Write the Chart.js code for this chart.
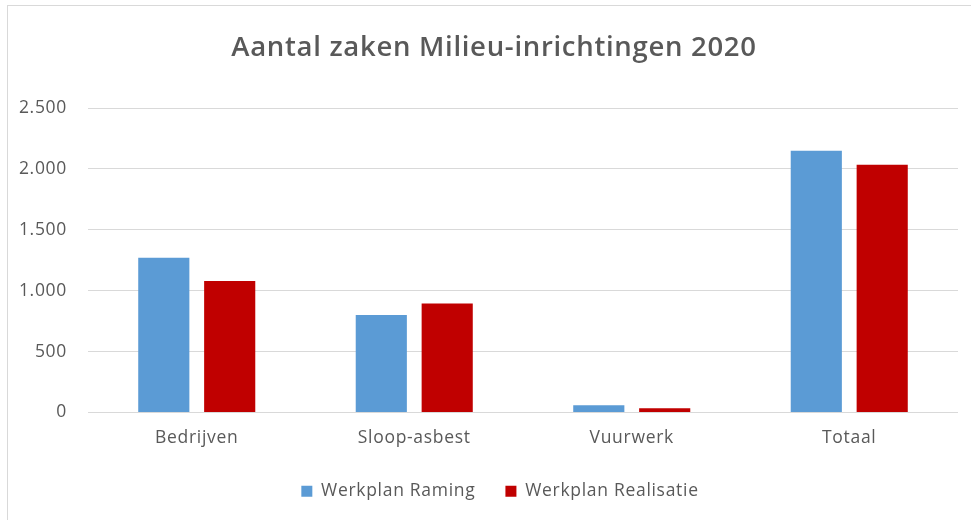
<!DOCTYPE html>
<html>
<head>
<meta charset="utf-8">
<script src="https://cdn.jsdelivr.net/npm/chart.js@4/dist/chart.umd.min.js"></script>
<style>
  html, body { margin: 0; padding: 0; background: #fff; }
  #wrap { position: relative; width: 971px; height: 520px; overflow: hidden; }
  #frame {
    position: absolute; left: 7px; top: 5px; width: 1000px; height: 600px;
    border-left: 1px solid #d9d9d9; border-top: 1px solid #d9d9d9;
    pointer-events: none;
  }
</style>
</head>
<body>
<div id="wrap">
  <canvas id="chart" width="971" height="520"></canvas>
  <div id="frame"></div>
</div>
<script>
const categories = ["Bedrijven", "Sloop-asbest", "Vuurwerk", "Totaal"];
const ramingValues = [1270, 800, 60, 2150];
const realisatieValues = [1080, 895, 35, 2035];
const yTicks = [0, 500, 1000, 1500, 2000, 2500];

const textColor = "#595959";
const fontFamily = "'Open Sans', 'DejaVu Sans', sans-serif";

// 1000 -> "1.000"
function formatNL(v) {
  return String(v).replace(/\B(?=(\d{3})+(?!\d))/g, ".");
}

// the original text is a bit wider than Open Sans, spread it a little
const spacing = {
  id: "spacing",
  beforeUpdate(chart) { chart.ctx.letterSpacing = "0.7px"; },
  beforeDraw(chart) { chart.ctx.letterSpacing = "0.7px"; },
};

// title and legend sit a bit right of the canvas centre in the original
const nudge = {
  id: "nudge",
  afterLayout(chart) {
    chart.titleBlock.left += 15;
    chart.titleBlock.right += 15;
    chart.legend.left += 21;
    chart.legend.right += 21;
  },
};

const ctx = document.getElementById("chart").getContext("2d");
new Chart(ctx, {
  type: "bar",
  data: {
    labels: categories,
    datasets: [
      {
        label: "Werkplan Raming",
        data: ramingValues,
        backgroundColor: "#5b9bd5",
        categoryPercentage: 0.606,
        barPercentage: 0.776,
      },
      {
        label: "Werkplan Realisatie",
        data: realisatieValues,
        backgroundColor: "#c00000",
        categoryPercentage: 0.606,
        barPercentage: 0.776,
      },
    ],
  },
  plugins: [spacing, nudge],
  options: {
    responsive: false,
    animation: false,
    layout: {
      padding: { left: 0, right: 13, top: 0, bottom: 10 },
    },
    scales: {
      x: {
        grid: { display: false },
        border: { display: false },
        afterFit: (scale) => {
          scale.height -= 3;
        },
        ticks: {
          color: textColor,
          padding: 7,
          font: { family: fontFamily, size: 17.5 },
        },
      },
      y: {
        min: 0,
        max: 2500,
        afterBuildTicks: (scale) => {
          scale.ticks = yTicks.map((v) => ({ value: v }));
        },
        afterFit: (scale) => {
          scale.width = 88;
        },
        grid: { color: "#d9d9d9", drawTicks: false },
        border: { display: false },
        ticks: {
          color: textColor,
          padding: 21,
          font: { family: fontFamily, size: 17.5 },
          callback: (v) => formatNL(v),
        },
      },
    },
    plugins: {
      title: {
        display: true,
        text: "Aantal zaken Milieu-inrichtingen 2020",
        color: textColor,
        font: { family: fontFamily, size: 27.5, weight: "600" },
        padding: { top: 32, bottom: 43 },
      },
      legend: {
        position: "bottom",
        labels: {
          color: textColor,
          boxWidth: 11,
          boxHeight: 11,
          padding: 30,
          font: { family: fontFamily, size: 17.5 },
        },
      },
      tooltip: { enabled: false },
    },
  },
});
</script>
</body>
</html>
